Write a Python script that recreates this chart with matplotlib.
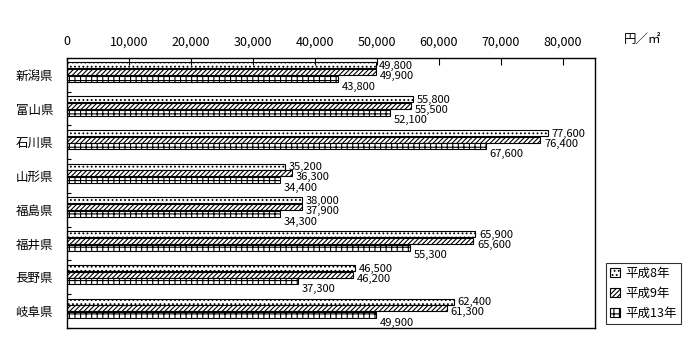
import numpy as np
import matplotlib.pyplot as plt

plt.rcParams['font.family'] = ['Noto Sans CJK JP', 'DejaVu Sans']
plt.rcParams['hatch.linewidth'] = 0.8

prefs = ['新潟県', '富山県', '石川県', '山形県', '福島県', '福井県', '長野県', '岐阜県']
series_names = ['平成8年', '平成9年', '平成13年']
h8 = [49800, 55800, 77600, 35200, 38000, 65900, 46500, 62400]
h9 = [49900, 55500, 76400, 36300, 37900, 65600, 46200, 61300]
h13 = [43800, 52100, 67600, 34400, 34300, 55300, 37300, 49900]
xticks = [0, 10000, 20000, 30000, 40000, 50000, 60000, 70000, 80000]

fig = plt.figure(figsize=(7, 3.6), dpi=100)
ax = fig.add_axes([0.0957, 0.089, 0.755, 0.75])

y = np.arange(len(prefs))
bh = 0.2
hatches = ['....', '///////', '+++']
label_dy = [0.02, 0.12, 0.23]
for i, (vals, hat) in enumerate(zip([h8, h9, h13], hatches)):
    pos = y - 0.28 + bh * i
    ax.barh(pos, vals, height=bh * 0.92, color='white', edgecolor='black',
            hatch=hat, linewidth=0.8, label=series_names[i])
    for p, v in zip(pos, vals):
        ax.text(v + 600, p + label_dy[i], f'{v:,}', va='center', ha='left',
                fontsize=8)

ax.set_ylim(len(prefs) - 0.5, -0.5)
ax.set_xlim(0, 85300)
ax.xaxis.tick_top()
ax.set_xticks(xticks)
ax.set_xticklabels([f'{t:,}' for t in xticks], fontsize=9)
ax.tick_params(axis='x', direction='in', length=5, pad=7, width=0.8)
ax.set_yticks(y)
ax.set_yticklabels(prefs, fontsize=9)
ax.tick_params(axis='y', length=0, pad=10)
ax.set_yticks(np.arange(len(prefs)) + 0.5, minor=True)
ax.tick_params(axis='y', which='minor', direction='in', length=3, width=0.8)
for s in ax.spines.values():
    s.set_linewidth(1.0)

fig.text(0.918, 0.889, '円／㎡', fontsize=9, ha='center', va='center')

leg = ax.legend(loc='lower left', bbox_to_anchor=(0.865, 0.1),
                bbox_transform=fig.transFigure, fontsize=9, frameon=True,
                fancybox=False, edgecolor='black', handlelength=0.8,
                handleheight=0.8, handletextpad=0.4, borderpad=0.35,
                labelspacing=0.55, borderaxespad=0)
leg.get_frame().set_linewidth(0.8)

fig.savefig('out.png', dpi=100)
